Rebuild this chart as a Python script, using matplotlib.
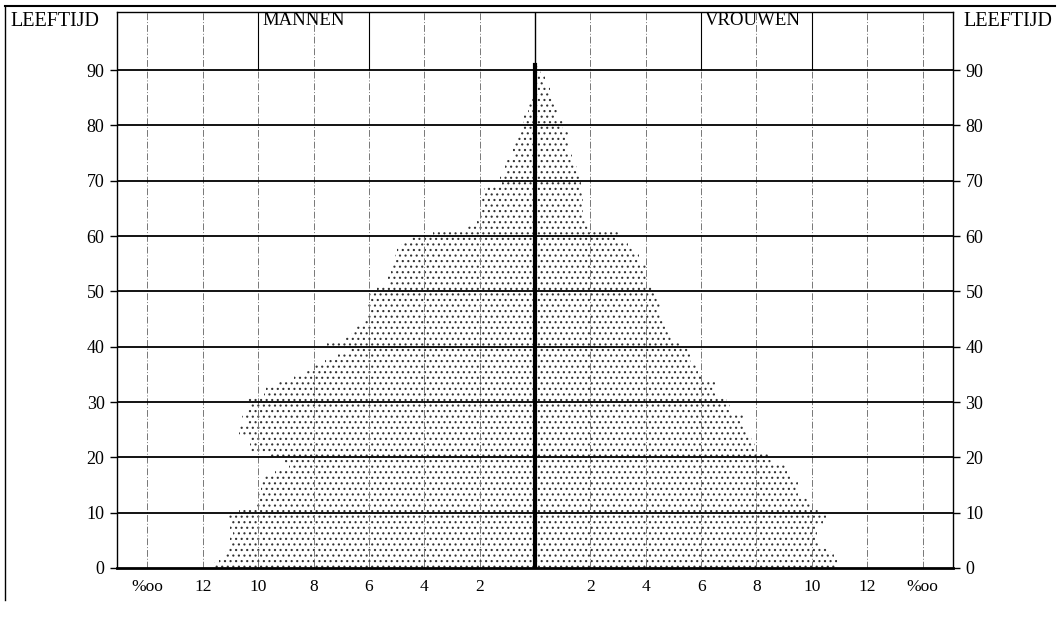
import numpy as np
import matplotlib.pyplot as plt
from matplotlib.lines import Line2D

# data: population per single year of age, in per mille
ages = np.arange(0, 91)
mannen = np.array([
    11.6, 11.4, 11.2, 11.1, 11.0, 11.0, 10.9, 11.0, 11.0, 11.1,
    10.7, 10.1, 10.0, 10.0, 9.9, 9.9, 9.8, 9.4, 8.9, 9.1,
    9.6, 10.3, 10.3, 10.3, 10.7, 10.7, 10.4, 10.6, 10.4, 10.3,
    10.4, 9.8, 9.7, 9.3, 8.7, 8.3, 8.0, 7.6, 7.1, 6.7,
    7.5, 6.85, 6.65, 6.5, 6.2, 6.1, 6.05, 6.05, 6.0, 6.0,
    5.7, 5.3, 5.3, 5.2, 5.2, 5.1, 5.05, 5.0, 4.85, 4.5,
    3.7, 2.45, 2.1, 2.0, 2.0, 1.9, 1.9, 1.9, 1.85, 1.2,
    1.25, 1.1, 1.1, 1.0, 0.8, 0.8, 0.8, 0.65, 0.5, 0.45,
    0.45, 0.4, 0.25, 0.25, 0.15, 0.1, 0.05, 0.05, 0.0, 0.0, 0.0])
vrouwen = np.array([
    10.9, 10.9, 10.8, 10.6, 10.3, 10.2, 10.2, 10.2, 10.4, 10.5,
    10.3, 9.95, 9.95, 9.5, 9.5, 9.5, 9.3, 9.1, 9.1, 8.6,
    8.5, 7.95, 7.95, 7.85, 7.7, 7.5, 7.5, 7.5, 7.05, 7.05,
    6.95, 6.5, 6.5, 6.5, 6.0, 5.9, 5.8, 5.65, 5.6, 5.55,
    5.3, 5.0, 4.9, 4.7, 4.7, 4.5, 4.5, 4.5, 4.5, 4.35,
    4.3, 4.0, 4.0, 4.0, 4.0, 3.75, 3.75, 3.55, 3.35, 3.0,
    3.0, 2.0, 1.85, 1.7, 1.75, 1.8, 1.75, 1.75, 1.7, 1.65,
    1.6, 1.55, 1.5, 1.35, 1.35, 1.2, 1.2, 1.2, 1.2, 1.0,
    1.0, 0.8, 0.8, 0.8, 0.6, 0.55, 0.55, 0.4, 0.35, 0.2, 0.1])

xticks = [-14, -12, -10, -8, -6, -4, -2, 2, 4, 6, 8, 10, 12, 14]
xlabels = ['%oo', '12', '10', '8', '6', '4', '2', '2', '4', '6', '8', '10', '12', '%oo']
yticks = list(range(0, 100, 10))

plt.rcParams['font.family'] = ['Liberation Serif', 'DejaVu Serif']
plt.rcParams['hatch.linewidth'] = 0.8

W, H = 1061, 622
fig = plt.figure(figsize=(W / 100, H / 100), dpi=100)
ax = fig.add_axes([117 / W, 54 / H, 836 / W, 556 / H])

ax.barh(ages, -mannen, height=1, align='edge', facecolor='none',
        edgecolor='#333333', linewidth=0, hatch='...')
ax.barh(ages, vrouwen, height=1, align='edge', facecolor='none',
        edgecolor='#333333', linewidth=0, hatch='...')

# grid
for v in yticks[1:]:
    ax.axhline(v, color='black', lw=1.3, zorder=3)
for v in xticks:
    ax.axvline(v, color='#777777', lw=0.7, ls=(0, (7, 2, 1, 2)), zorder=1)
ax.vlines([-10, -6, 6, 10], 90, 100.5, color='black', lw=0.8, zorder=3)
ax.axvline(0, color='black', lw=1.0, zorder=3)
ax.plot([0, 0], [0, 91], color='black', lw=3.0, zorder=4)

ax.set_xlim(-15.1, 15.1)
ax.set_ylim(0, 100.5)
for s in ax.spines.values():
    s.set_linewidth(1.0)
ax.spines['bottom'].set_linewidth(2.0)

ax.set_xticks(xticks)
ax.set_xticklabels(xlabels, fontsize=12.5)
ax.tick_params(axis='x', length=0, pad=8)
ax.set_yticks(yticks)
ax.set_yticklabels([str(v) for v in yticks], fontsize=13)
ax.tick_params(axis='y', left=True, right=True, labelleft=True, labelright=True,
               length=5, width=1, pad=4, direction='out')

ax.text(-9.85, 99.0, 'MANNEN', fontsize=13.5, ha='left', va='center')
ax.text(6.15, 99.0, 'VROUWEN', fontsize=13.5, ha='left', va='center')
fig.text(10 / W, 1 - 21 / H, 'LEEFTIJD', fontsize=14.5, ha='left', va='center')
fig.text(963 / W, 1 - 21 / H, 'LEEFTIJD', fontsize=14.5, ha='left', va='center')

# outer frame
fig.add_artist(Line2D([5 / W, 5 / W], [1 - 6 / H, 1 - 600 / H], color='black', lw=1.0))
fig.add_artist(Line2D([5 / W, 1 - 6 / W], [1 - 6 / H, 1 - 6 / H], color='black', lw=1.5))

fig.savefig('out.png', dpi=100)
